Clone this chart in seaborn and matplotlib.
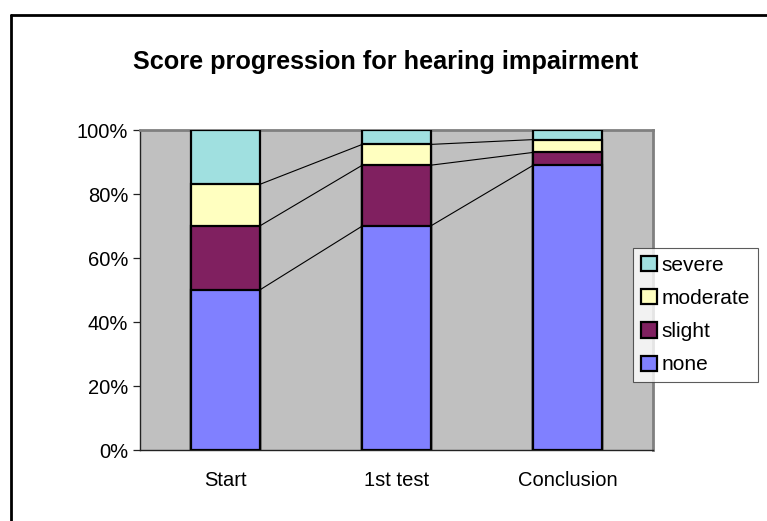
import matplotlib
matplotlib.use("Agg")
import matplotlib.pyplot as plt
import seaborn as sns
import pandas as pd
import numpy as np
from matplotlib.patches import Patch
from matplotlib.lines import Line2D

categories = ["Start", "1st test", "Conclusion"]
series = ["none", "slight", "moderate", "severe"]
none_vals = [50, 70, 89]
slight_vals = [20, 19, 4]
moderate_vals = [13, 6.5, 4]
severe_vals = [17, 4.5, 3]
colors = {"none": "#8080FF", "slight": "#802060", "moderate": "#FFFFC0", "severe": "#A0E0E0"}
ytick_labels = ["0%", "20%", "40%", "60%", "80%", "100%"]
title = "Score progression for hearing impairment"

sns.set_style("white")
plt.rcParams["font.family"] = ["Liberation Sans", "DejaVu Sans"]
plt.rcParams["text.color"] = "black"
plt.rcParams["xtick.color"] = "black"
plt.rcParams["ytick.color"] = "black"
plt.rcParams["xtick.labelcolor"] = "black"
plt.rcParams["ytick.labelcolor"] = "black"

W, H = 767, 521
fig = plt.figure(figsize=(W / 100, H / 100), dpi=100)
ax = fig.add_axes([140 / W, (H - 450) / H, 513 / W, 320 / H])
ax.set_facecolor("#C0C0C0")

vals = {"none": none_vals, "slight": slight_vals, "moderate": moderate_vals, "severe": severe_vals}
cum = {}
running = np.zeros(len(categories))
for s in series:
    running = running + np.array(vals[s], dtype=float)
    cum[s] = running.copy()

# draw from the top layer down so lower layers overlay
for s in reversed(series):
    df = pd.DataFrame({"cat": categories, "val": cum[s]})
    sns.barplot(data=df, x="cat", y="val", color=colors[s], width=0.4,
                edgecolor="black", linewidth=1.6, ax=ax, saturation=1, zorder=3)

# connector lines between bars
hw = 0.2
for s in series[:-1]:
    c = cum[s]
    for i in range(len(categories) - 1):
        ax.plot([i + hw, i + 1 - hw], [c[i], c[i + 1]], color="black", lw=0.8, zorder=4)

ax.set_xlim(-0.5, len(categories) - 0.5)
ax.set_ylim(0, 100)
ax.set_xlabel("")
ax.set_ylabel("")
ax.set_yticks(np.arange(0, 101, 20))
ax.set_yticklabels(ytick_labels)
ax.set_xticks(range(len(categories)))
ax.set_xticklabels(categories)
ax.set_xticks(np.arange(-0.5, len(categories), 1.0), minor=True)
ax.tick_params(axis="x", which="major", length=0, pad=15, labelsize=14.5)
ax.tick_params(axis="x", which="minor", length=5, width=0.9, direction="out", color="#222222")
ax.tick_params(axis="y", which="major", length=5, width=0.9, direction="out", pad=3.5,
               labelsize=14.5, color="#222222", left=True)
for side in ["left", "bottom"]:
    ax.spines[side].set_color("#222222")
    ax.spines[side].set_linewidth(1.0)
for side in ["top", "right"]:
    ax.spines[side].set_color("#808080")
    ax.spines[side].set_linewidth(2.0)
ax.grid(False)

fig.text(386 / W, 1 - 62 / H, title, ha="center", va="center", fontsize=18.2,
         fontweight="bold", color="black")

handles = [Patch(facecolor=colors[s], edgecolor="black", linewidth=1.6, label=s) for s in reversed(series)]
leg = fig.legend(handles=handles, loc="upper left", bbox_to_anchor=(633 / W, 1 - 248 / H),
                 frameon=True, fancybox=False, edgecolor="#333333", fontsize=15,
                 handlelength=0.75, handleheight=0.75, handletextpad=0.25,
                 labelspacing=0.68, borderpad=0.38, borderaxespad=0)
leg.get_frame().set_linewidth(0.8)
for t in leg.get_texts():
    t.set_color("black")

# chart border (left and top edges)
fig.add_artist(Line2D([11 / W, 11 / W], [0, 1 - 15 / H], color="black", lw=2, transform=fig.transFigure))
fig.add_artist(Line2D([11 / W, 1], [1 - 15 / H, 1 - 15 / H], color="black", lw=2, transform=fig.transFigure))

fig.savefig("out.png", dpi=100)
